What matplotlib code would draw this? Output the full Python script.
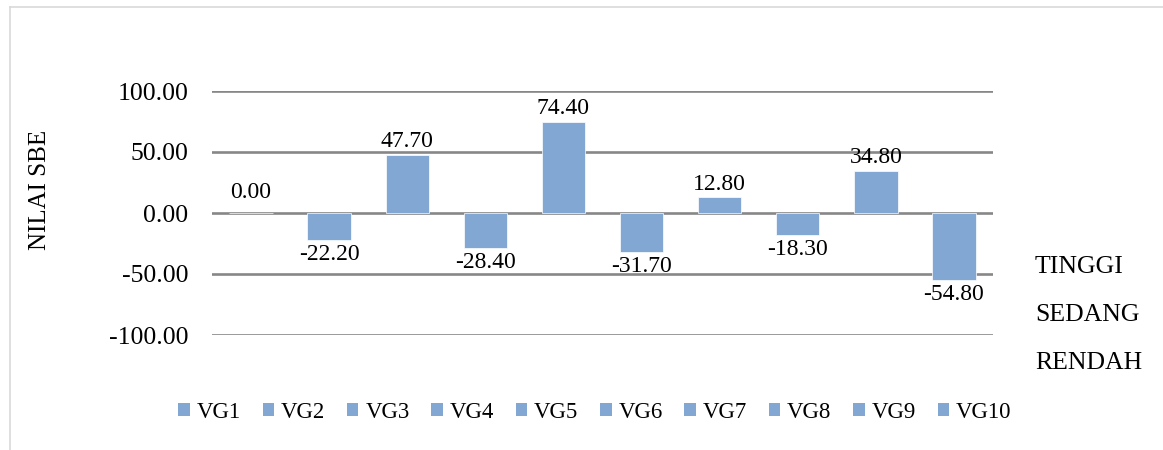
import matplotlib
matplotlib.use("Agg")
import matplotlib.pyplot as plt
from matplotlib.lines import Line2D
from matplotlib.patches import Patch

categories = ["VG1", "VG2", "VG3", "VG4", "VG5", "VG6", "VG7", "VG8", "VG9", "VG10"]
values = [0.00, -22.20, 47.70, -28.40, 74.40, -31.70, 12.80, -18.30, 34.80, -54.80]
yticks = [-100, -50, 0, 50, 100]
side_labels = ["TINGGI", "SEDANG", "RENDAH"]

plt.rcParams['font.family'] = ['Liberation Serif', 'DejaVu Serif']
W, H = 1163, 450
fig = plt.figure(figsize=(W / 100, H / 100), dpi=100)

bar_color = '#82a7d3'
grid_color = '#878787'

ax = fig.add_axes([212 / W, 1 - 335 / H, 781 / W, 244 / H])
x = list(range(len(categories)))
ax.bar(x, values, width=0.555, color=bar_color, edgecolor='white', linewidth=0.5, zorder=3)
ax.set_xlim(-0.5, len(categories) - 0.5)
ax.set_ylim(-100, 100)
ax.set_yticks(yticks)
ax.set_yticklabels([f"{v:.2f}" for v in yticks], fontsize=18.5)
ax.tick_params(axis='y', length=0, pad=17)
ax.set_xticks([])
for s in ax.spines.values():
    s.set_visible(False)
ax.yaxis.grid(True, color=grid_color, linewidth=1.9, zorder=1)
ax.set_axisbelow(True)

for xi, v in zip(x, values):
    if v > 0:
        ax.annotate(f"{v:.2f}", (xi, v), xytext=(0, 2), textcoords='offset points',
                    ha='center', va='bottom', fontsize=17)
    elif v == 0:
        ax.annotate(f"{v:.2f}", (xi, v), xytext=(0, 7), textcoords='offset points',
                    ha='center', va='bottom', fontsize=17)
    else:
        ax.annotate(f"{v:.2f}", (xi, v), xytext=(0, -3), textcoords='offset points',
                    ha='center', va='top', fontsize=17)

fig.text(40 / W, 1 - 190 / H, "NILAI SBE", rotation=90, ha='center', va='center', fontsize=18)

for i, lab in enumerate(side_labels):
    fig.text(1035 / W, 1 - (267 + 48 * i) / H, lab, ha='left', va='center', fontsize=18.5)

handles = [Patch(facecolor=bar_color, edgecolor='none') for _ in categories]
fig.legend(handles, categories, loc='center', bbox_to_anchor=(595 / W, 1 - 412 / H),
           ncol=10, frameon=False, fontsize=16.5, handlelength=0.5, handleheight=0.5,
           handletextpad=0.3, columnspacing=0.95)

# partial border (top and left edges)
fig.add_artist(Line2D([10 / W, 1], [1 - 7 / H, 1 - 7 / H], color='#d9d9d9', linewidth=1.2))
fig.add_artist(Line2D([10 / W, 10 / W], [0, 1 - 7 / H], color='#d9d9d9', linewidth=1.2))

fig.savefig("out.png", dpi=100)
